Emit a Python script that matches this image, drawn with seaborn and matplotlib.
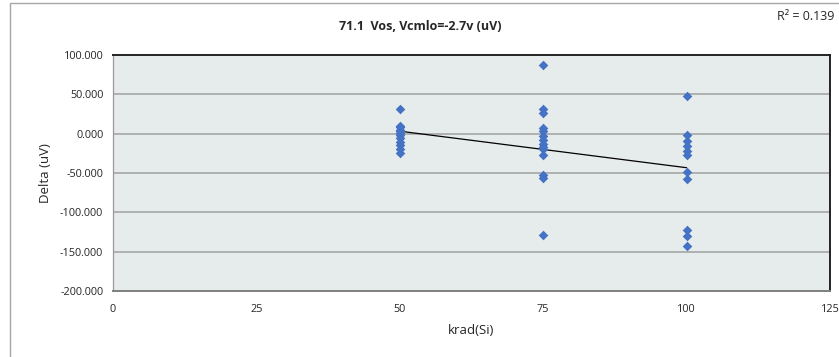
import numpy as np
import pandas as pd
import matplotlib.pyplot as plt
import seaborn as sns
from matplotlib.patches import Rectangle

# data (krad(Si) vs delta in uV)
dose_50 = [31, 10, 8, 5, 3, 1, -2, -6, -10, -14, -19, -24]
dose_75 = [87, 31, 26, 7, 3, -3, -8, -13, -17, -20, -27, -52, -56, -129]
dose_100 = [48, -2, -9, -16, -22, -27, -49, -58, -123, -130, -143]

x_ticks = [0, 25, 50, 75, 100, 125]
y_ticks = [-200, -150, -100, -50, 0, 50, 100]
title = "71.1  Vos, Vcmlo=-2.7v (uV)"
r2_label = "R\u00b2 = 0.139"

df = pd.DataFrame({
    "krad": [50] * len(dose_50) + [75] * len(dose_75) + [100] * len(dose_100),
    "delta": dose_50 + dose_75 + dose_100,
})

sns.set_style("white")
plt.rcParams["font.family"] = ["Open Sans", "DejaVu Sans"]

fig = plt.figure(figsize=(8.39, 3.57), dpi=100)
ax = fig.add_axes([113 / 839, 1 - 291 / 357, 717 / 839, 236 / 357])

# chart area border
fig.patches.append(Rectangle((10 / 839, -0.01), 1.0, 1 - 3 / 357 + 0.01,
                             transform=fig.transFigure, fill=False,
                             edgecolor="#a6a6a6", linewidth=1.0))

ax.set_facecolor("#e6ebeb")
for y in y_ticks[1:-1]:
    ax.axhline(y, color="#a6a6a6", linewidth=1.2, zorder=1)

sns.scatterplot(data=df, x="krad", y="delta", ax=ax, marker="D", s=24,
                color="#4472c4", edgecolor="#4472c4", linewidth=0, zorder=3)

# linear trend line over the data range
slope, intercept = np.polyfit(df["krad"], df["delta"], 1)
xs = np.array([df["krad"].min(), df["krad"].max()])
ax.plot(xs, slope * xs + intercept, color="black", linewidth=0.9, zorder=2)

ax.set_xlim(0, 125)
ax.set_ylim(-200, 100)
ax.set_xticks(x_ticks)
ax.set_yticks(y_ticks)
ax.set_yticklabels([f"{v:.3f}" for v in y_ticks])
ax.tick_params(axis="both", labelsize=7.8, length=3, color="#888888",
               direction="out", pad=4)
ax.tick_params(axis="x", pad=6)

for side in ["top", "right"]:
    ax.spines[side].set_color("#222222")
    ax.spines[side].set_linewidth(1.4)
ax.spines["bottom"].set_color("#7f7f7f")
ax.spines["bottom"].set_linewidth(1.4)
ax.spines["left"].set_color("#9a9a9a")
ax.spines["left"].set_linewidth(0.9)

ax.set_xlabel("krad(Si)", fontsize=9.5, labelpad=7)
ax.set_ylabel("Delta (uV)", fontsize=9.5, labelpad=6)

fig.text(420 / 839, 1 - 26 / 357, title, ha="center", va="center",
         fontsize=9, fontweight="bold")
fig.text(834 / 839, 1 - 16 / 357, r2_label, ha="right", va="center",
         fontsize=9)

fig.savefig("out.png", dpi=100)
